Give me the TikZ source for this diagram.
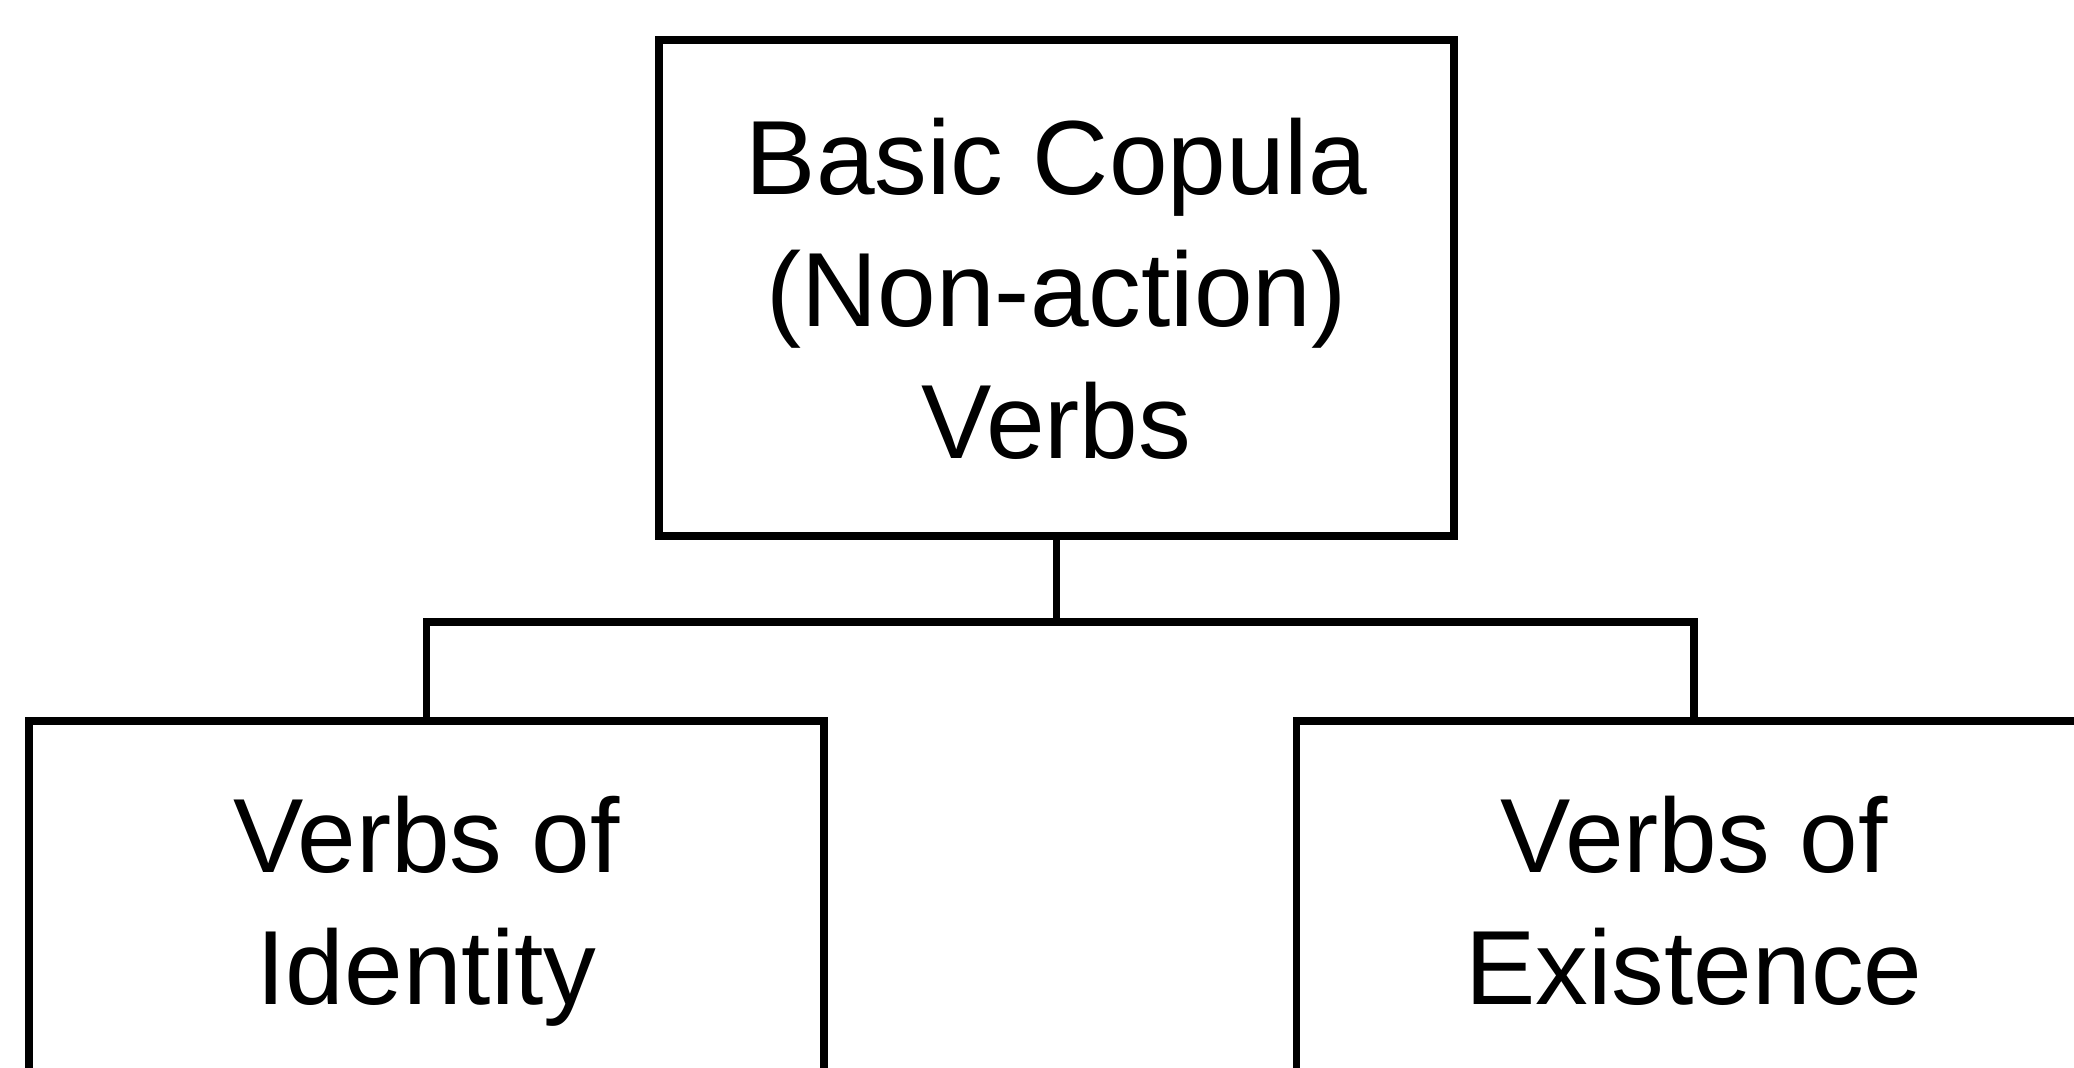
\documentclass[tikz,border=0pt]{standalone}
\usepackage{fontspec}
\setmainfont{Liberation Sans}
\usetikzlibrary{positioning}

\tikzset{
	verbbox/.style={draw, line width=2pt, minimum width=7.95cm, align=center, text depth=0pt, font=\fontsize{30}{37.5}\selectfont},
	link/.style={line width=2pt}
}

\begin{document}
\begin{tikzpicture}
	\useasboundingbox (0,0) rectangle (20.74,10.67);
	\clip (0,0) rectangle (20.74,10.67);
	\node[verbbox, minimum height=4.96cm] (copula) at (10.565,7.79) {Basic Copula\\(Non-action)\\Verbs};
	\node[verbbox, minimum height=3.58cm] (identity) at (4.265,1.67) {Verbs of\\Identity};
	\node[verbbox, minimum height=3.58cm] (existence) at (16.94,1.67) {Verbs of\\Existence};
	\coordinate (split) at (10.565,4.45);
	\draw[link] (copula.south) -- (split);
	\draw[link] (identity.north) |- (split) -| (existence.north);
\end{tikzpicture}
\end{document}
